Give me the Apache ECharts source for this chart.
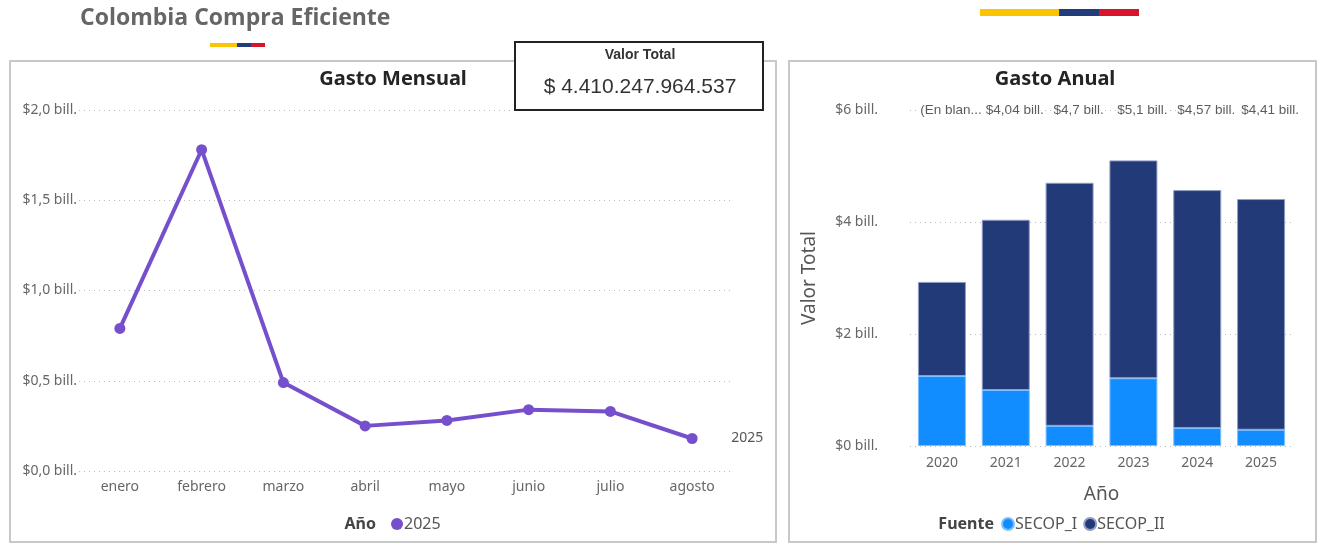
<!DOCTYPE html>
<html lang="es">
<head>
	<meta charset='utf-8'>
	<title>Colombia Compra Eficiente</title>
	<script src="https://cdn.jsdelivr.net/npm/echarts@6/dist/echarts.min.js"></script>
	<style>
		html, body { margin: 0; padding: 0; background: #fff; }
		#container { width: 1318px; height: 544px; }
	</style>
</head>
<body>
	<div id="container"></div>
	<script type="text/javascript">
		// datos
		let meses = ['enero', 'febrero', 'marzo', 'abril', 'mayo', 'junio', 'julio', 'agosto'];
		let gastoMensual2025 = [0.79, 1.78, 0.49, 0.25, 0.28, 0.34, 0.33, 0.18];   // billones
		let anios = ['2020', '2021', '2022', '2023', '2024', '2025'];
		let secop1 = [1.25, 1.00, 0.36, 1.21, 0.32, 0.29];
		let secop2 = [1.68, 3.04, 4.34, 3.89, 4.25, 4.12];
		let etiquetasTotal = ['(En blan...', '$4,04 bill.', '$4,7 bill.', '$5,1 bill.', '$4,57 bill.', '$4,41 bill.'];
		let ticksMensual = [0, 0.5, 1.0, 1.5, 2.0];
		let ticksAnual = [0, 2, 4, 6];
		let valorTotal = 4410247964537;

		let dom = document.getElementById('container');
		let myChart = echarts.init(dom, null, { renderer: 'canvas' });

		let font = '"Noto Sans", "Open Sans", sans-serif';
		let gris = '#666';
		let morado = '#7650CC';

		function fmtMiles(n) {
			return '$ ' + String(n).replace(/\B(?=(\d{3})+(?!\d))/g, '.');
		}

		let option = {
			animation: false,
			textStyle: { fontFamily: font },
			graphic: [
				// encabezado
				{ type: 'text', left: 80, top: 7, style: { text: 'Colombia Compra Eficiente', font: 'bold 23px "Open Sans", "Noto Sans", sans-serif', fill: '#666' } },
				{ type: 'rect', shape: { x: 210, y: 43, width: 28, height: 4 }, style: { fill: '#FBC400' } },
				{ type: 'rect', shape: { x: 237, y: 43, width: 14, height: 4 }, style: { fill: '#233C7C' } },
				{ type: 'rect', shape: { x: 251, y: 43, width: 14, height: 4 }, style: { fill: '#D9142A' } },
				{ type: 'rect', shape: { x: 980, y: 9, width: 80, height: 7 }, style: { fill: '#FBC400' } },
				{ type: 'rect', shape: { x: 1059, y: 9, width: 40, height: 7 }, style: { fill: '#233C7C' } },
				{ type: 'rect', shape: { x: 1099, y: 9, width: 40, height: 7 }, style: { fill: '#D9142A' } },
				// paneles
				{ type: 'rect', z: -10, shape: { x: 10, y: 61, width: 766, height: 481 }, style: { fill: '#fff', stroke: '#c8c8c8', lineWidth: 2 } },
				{ type: 'rect', z: -10, shape: { x: 789, y: 61, width: 527, height: 481 }, style: { fill: '#fff', stroke: '#c8c8c8', lineWidth: 2 } },
				// tarjeta valor total
				{ type: 'rect', z: 20, shape: { x: 515, y: 42, width: 248, height: 68 }, style: { fill: '#fff', stroke: '#222', lineWidth: 2 } },
				{ type: 'text', z: 21, x: 640, y: 55, style: { text: 'Valor Total', font: 'bold 14px "Liberation Sans", Arial, sans-serif', fill: '#333', align: 'center', verticalAlign: 'middle' } },
				{ type: 'text', z: 21, x: 640, y: 87, style: { text: fmtMiles(valorTotal), font: '21px "Liberation Sans", Arial, sans-serif', fill: '#333', align: 'center', verticalAlign: 'middle' } },
				// titulos de leyenda
				{ type: 'text', x: 376, y: 524, style: { text: 'Año', font: 'bold 16px ' + font, fill: '#444', align: 'right', verticalAlign: 'middle' } },
				{ type: 'text', x: 994, y: 524, style: { text: 'Fuente', font: 'bold 16px ' + font, fill: '#444', align: 'right', verticalAlign: 'middle' } }
			],
			title: [
				{ text: 'Gasto Mensual', left: 388, top: 64, textAlign: 'center', textStyle: { fontSize: 20, fontWeight: 'bold', color: '#252423', fontFamily: font } },
				{ text: 'Gasto Anual', left: 1050, top: 64, textAlign: 'center', textStyle: { fontSize: 20, fontWeight: 'bold', color: '#252423', fontFamily: font } }
			],
			legend: [
				{
					data: ['2025'], left: 386, top: 511, icon: 'circle', itemWidth: 12, itemHeight: 12, itemGap: 8,
					textStyle: { color: '#555', fontSize: 16, padding: [0, 0, 0, -4] }
				},
				{
					data: ['SECOP_I', 'SECOP_II'], left: 996, top: 511, icon: 'circle', itemWidth: 12, itemHeight: 12, itemGap: 6,
					textStyle: { color: '#555', fontSize: 16, padding: [0, 0, 0, -4] }
				}
			],
			grid: [
				{ left: 79, top: 110, width: 654, height: 361 },
				{ left: 910, top: 110, width: 383, height: 336 }
			],
			xAxis: [
				{
					gridIndex: 0, type: 'category', data: meses,
					axisLine: { show: false }, axisTick: { show: false },
					axisLabel: { color: gris, fontSize: 14, margin: 9 }
				},
				{
					gridIndex: 1, type: 'category', data: anios,
					name: 'Año', nameLocation: 'middle', nameGap: 39,
					nameTextStyle: { color: '#555', fontSize: 19 },
					axisLabel: { color: gris, fontSize: 14, margin: 10 },
					axisLine: { show: false }, axisTick: { show: false }
				}
			],
			yAxis: [
				{
					gridIndex: 0, type: 'value', min: ticksMensual[0], max: ticksMensual[ticksMensual.length - 1], interval: 0.5,
					axisLabel: {
						color: gris, fontSize: 14, margin: 2,
						formatter: function (v) { return '$' + v.toFixed(1).replace('.', ',') + ' bill.'; }
					},
					splitLine: { lineStyle: { type: [1, 4], color: '#bbb', width: 1 } }
				},
				{
					gridIndex: 1, type: 'value', min: ticksAnual[0], max: ticksAnual[ticksAnual.length - 1], interval: 2,
					name: 'Valor Total', nameLocation: 'middle', nameGap: 91,
					nameTextStyle: { color: '#555', fontSize: 19 },
					axisLabel: {
						color: gris, fontSize: 14, margin: 32,
						formatter: function (v) { return '$' + v + ' bill.'; }
					},
					splitLine: { lineStyle: { type: [1, 4], color: '#bbb', width: 1 } }
				}
			],
			series: [
				{
					name: '2025', type: 'line', xAxisIndex: 0, yAxisIndex: 0,
					data: gastoMensual2025,
					color: morado,
					symbol: 'circle', symbolSize: 11,
					lineStyle: { width: 4, color: morado },
					itemStyle: { color: morado },
					endLabel: { show: true, formatter: '{a}', distance: 39, color: '#555', fontSize: 14 }
				},
				{
					name: 'SECOP_I', type: 'bar', stack: 'total', xAxisIndex: 1, yAxisIndex: 1,
					data: secop1, color: '#118DFF', barWidth: 48,
					itemStyle: { color: '#118DFF', borderColor: '#7fc0ff', borderWidth: 1 }
				},
				{
					name: 'SECOP_II', type: 'bar', stack: 'total', xAxisIndex: 1, yAxisIndex: 1,
					data: secop2, color: '#233A78', barWidth: 48,
					itemStyle: { color: '#233A78', borderColor: '#8f9cc4', borderWidth: 1 }
				},
				{
					name: 'totales', type: 'scatter', xAxisIndex: 1, yAxisIndex: 1,
					symbolSize: 0, silent: true,
					data: anios.map(function () { return ticksAnual[ticksAnual.length - 1]; }),
					label: {
						show: true, position: 'inside', offset: [9, 0],
						formatter: function (p) { return etiquetasTotal[p.dataIndex]; },
						color: '#333', fontSize: 13.5, fontFamily: '"Liberation Sans", Arial, sans-serif',
						backgroundColor: '#fff', padding: [1, 1]
					}
				}
			]
		};

		if (option && typeof option === 'object') {
			myChart.setOption(option);
		}
		window.addEventListener('resize', myChart.resize);
	</script>
</body>
</html>
